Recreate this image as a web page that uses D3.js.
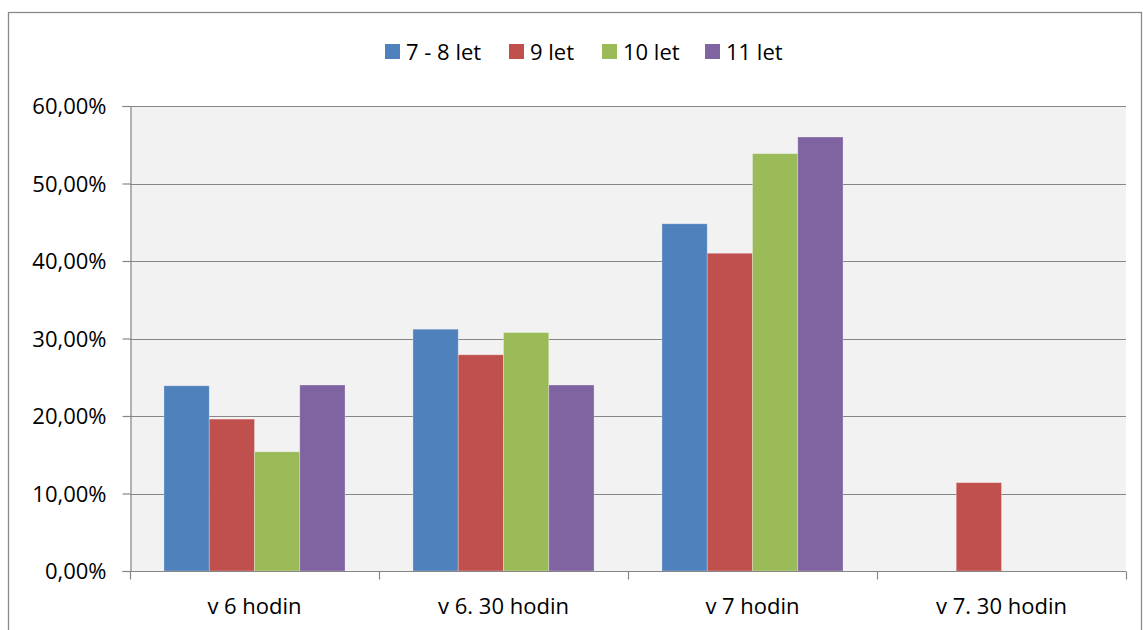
<!DOCTYPE html>
<html>
<head>
<meta charset="utf-8">
<script src="https://cdn.jsdelivr.net/npm/d3@7"></script>
<style>
  html, body { margin: 0; padding: 0; background: #ffffff; }
  svg { display: block; font-family: "Open Sans", "Liberation Sans", sans-serif; }
</style>
</head>
<body>
<svg id="chart" width="1143" height="630"></svg>
<script>
// Time categories and age-group series (shares of respondents)
const categories = ["v 6 hodin", "v 6. 30 hodin", "v 7 hodin", "v 7. 30 hodin"];
const seriesNames = ["7 - 8 let", "9 let", "10 let", "11 let"];
const seriesColors = ["#4f81bd", "#c0504d", "#9bbb59", "#8064a2"];
const values78 = [0.239, 0.312, 0.448, 0];
const values9 = [0.196, 0.279, 0.410, 0.114];
const values10 = [0.1538, 0.3077, 0.5385, 0];
const values11 = [0.24, 0.24, 0.56, 0];
const yTicks = [0, 0.1, 0.2, 0.3, 0.4, 0.5, 0.6];

const seriesValues = [values78, values9, values10, values11];

const svg = d3.select("#chart");
const W = 1143, H = 630;
const plot = { left: 130, right: 1126, top: 106, bottom: 571 };

// Outer chart frame
svg.append("rect")
  .attr("x", 8.5).attr("y", 12.5)
  .attr("width", W - 10).attr("height", H)
  .attr("fill", "#ffffff").attr("stroke", "#8a8a8a").attr("stroke-width", 1.3);

// Plot background
svg.append("rect")
  .attr("x", plot.left).attr("y", plot.top)
  .attr("width", plot.right - plot.left).attr("height", plot.bottom - plot.top)
  .attr("fill", "#f2f2f2");

const x0 = d3.scaleBand().domain(categories).range([plot.left, plot.right]).paddingInner(0).paddingOuter(0);
const barW = x0.bandwidth() / 5.5;
const x1 = d3.scaleBand().domain(d3.range(seriesNames.length))
  .range([barW * 0.75, barW * 4.75]).padding(0);
const y = d3.scaleLinear().domain([0, 0.6]).range([plot.bottom, plot.top]);

const pct = v => d3.format(".2f")(v * 100).replace(".", ",") + "%";

// Horizontal gridlines
svg.append("g")
  .selectAll("line")
  .data(yTicks)
  .join("line")
  .attr("x1", plot.left).attr("x2", plot.right)
  .attr("y1", d => Math.round(y(d)) + 0.5).attr("y2", d => Math.round(y(d)) + 0.5)
  .attr("stroke", "#868686").attr("stroke-width", 1.2);

// Bars
const groups = svg.append("g")
  .selectAll("g")
  .data(categories)
  .join("g")
  .attr("transform", d => `translate(${x0(d)},0)`);

groups.selectAll("rect")
  .data((c, ci) => seriesValues.map((vals, si) => ({ si, v: vals[ci] })))
  .join("rect")
  .filter(d => d.v > 0)
  .attr("x", d => x1(d.si))
  .attr("y", d => y(d.v))
  .attr("width", x1.bandwidth())
  .attr("height", d => y(0) - y(d.v))
  .attr("fill", d => seriesColors[d.si])
  .attr("stroke", "rgba(255,255,255,0.35)")
  .attr("stroke-width", 0.8);

// Y axis
const yAxis = svg.append("g")
  .attr("transform", `translate(${plot.left + 0.5},0)`)
  .call(d3.axisLeft(y).tickValues(yTicks).tickFormat(pct).tickSize(8).tickPadding(16));
yAxis.select(".domain").attr("stroke", "#868686").attr("stroke-width", 1.2);
yAxis.selectAll(".tick line").attr("stroke", "#868686").attr("stroke-width", 1.2);
yAxis.selectAll(".tick text")
  .attr("font-size", 22).attr("fill", "#000000")
  .attr("font-family", "'Open Sans', sans-serif")
  .attr("dy", "0.36em");

// X axis: ticks at category boundaries, labels centred
const xAxisG = svg.append("g").attr("transform", `translate(0,${Math.round(plot.bottom) + 0.5})`);
xAxisG.append("line")
  .attr("x1", plot.left).attr("x2", plot.right)
  .attr("stroke", "#868686").attr("stroke-width", 1.2);
const boundaries = categories.map(c => x0(c)).concat([plot.right]);
xAxisG.selectAll("line.tick")
  .data(boundaries)
  .join("line")
  .attr("class", "tick")
  .attr("x1", d => Math.round(d) + 0.5).attr("x2", d => Math.round(d) + 0.5)
  .attr("y1", 0).attr("y2", 8)
  .attr("stroke", "#868686").attr("stroke-width", 1.2);
xAxisG.selectAll("text")
  .data(categories)
  .join("text")
  .attr("x", d => x0(d) + x0.bandwidth() / 2)
  .attr("y", 42)
  .attr("text-anchor", "middle")
  .attr("font-size", 22)
  .attr("fill", "#000000")
  .text(d => d);

// Legend
const legendX = [385, 509, 602, 705];
const legend = svg.append("g")
  .selectAll("g")
  .data(seriesNames)
  .join("g")
  .attr("transform", (d, i) => `translate(${legendX[i]},44)`);
legend.append("rect")
  .attr("width", 15).attr("height", 15)
  .attr("fill", (d, i) => seriesColors[i]);
legend.append("text")
  .attr("x", 21).attr("y", 15.5)
  .attr("font-size", 22).attr("fill", "#000000")
  .text(d => d);
</script>
</body>
</html>
